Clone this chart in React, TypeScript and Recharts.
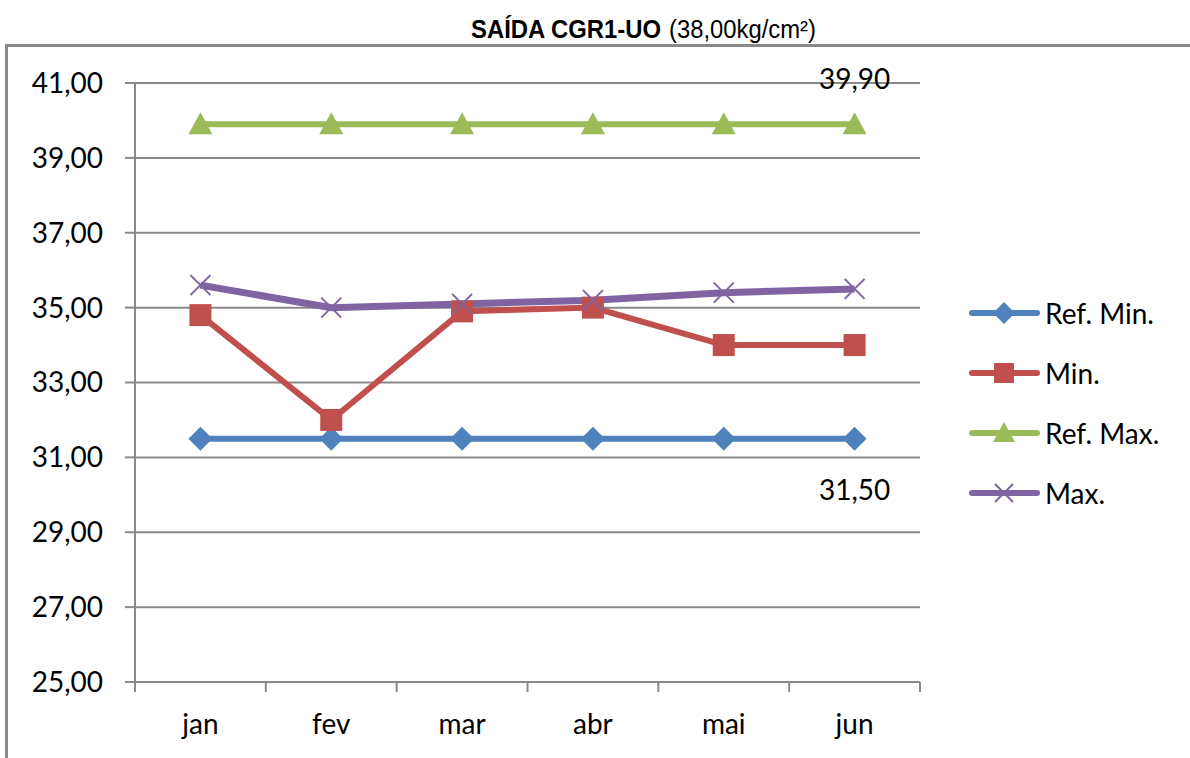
import { LineChart, Line, XAxis, YAxis, CartesianGrid, LabelList } from "recharts";

const months = ["jan", "fev", "mar", "abr", "mai", "jun"];
const refMinValues = [31.5, 31.5, 31.5, 31.5, 31.5, 31.5];
const minValues = [34.8, 32.0, 34.9, 35.0, 34.0, 34.0];
const refMaxValues = [39.9, 39.9, 39.9, 39.9, 39.9, 39.9];
const maxValues = [35.6, 35.0, 35.1, 35.2, 35.4, 35.5];
const yTicks = [25, 27, 29, 31, 33, 35, 37, 39, 41];

const seriesNames = ["Ref. Min.", "Min.", "Ref. Max.", "Max."];

const data = months.map((month, i) => ({
  month,
  refMin: refMinValues[i],
  min: minValues[i],
  refMax: refMaxValues[i],
  max: maxValues[i],
}));

const BLUE = "#4F81BD";
const RED = "#C0504D";
const GREEN = "#9BBB59";
const PURPLE = "#8064A2";
const GRID = "#898989";
const FONT = "Lato, 'Noto Sans', sans-serif";
const NARROW = "'Liberation Sans Narrow', 'Liberation Sans', Arial, sans-serif";

const W = 1190;
const H = 758;
const plotLeft = 135;
const plotRight = 920;
const plotTop = 83;
const plotBottom = 682;
const band = (plotRight - plotLeft) / months.length;

const fmt = (v: number) => v.toFixed(2).replace(".", ",");

function marker(kind: string, cx: number, cy: number, color: string, s: number, key?: string) {
  const h = s / 2;
  if (kind === "diamond")
    return <polygon key={key} points={`${cx},${cy - h} ${cx + h},${cy} ${cx},${cy + h} ${cx - h},${cy}`} fill={color} />;
  if (kind === "square")
    return <rect key={key} x={cx - h + 1} y={cy - h + 1} width={s - 2} height={s - 2} fill={color} />;
  if (kind === "triangle")
    return <polygon key={key} points={`${cx},${cy - h} ${cx + h},${cy + h - 2} ${cx - h},${cy + h - 2}`} fill={color} />;
  const r = h - 2;
  return (
    <g key={key}>
      <line x1={cx - r} y1={cy - r} x2={cx + r} y2={cy + r} stroke={color} strokeWidth={2} />
      <line x1={cx - r} y1={cy + r} x2={cx + r} y2={cy - r} stroke={color} strokeWidth={2} />
    </g>
  );
}

const dotFor = (kind: string, color: string) => (props: any) =>
  marker(kind, props.cx, props.cy, color, 24, `${kind}-${props.index}`);

function MonthTick({ x, y, payload, index }: any) {
  const last = index === months.length - 1;
  return (
    <g>
      <line x1={x - band / 2} x2={x - band / 2} y1={y} y2={y + 10} stroke={GRID} strokeWidth={2} />
      {last && <line x1={x + band / 2} x2={x + band / 2} y1={y} y2={y + 10} stroke={GRID} strokeWidth={2} />}
      <text x={x} y={y + 41} textAnchor="middle" dominantBaseline="central" fontSize={28} fontFamily={FONT} fill="#000">
        {payload.value}
      </text>
    </g>
  );
}

const lastLabel = (dy: number) => (props: any) => {
  if (props.index !== months.length - 1) return null;
  return (
    <text x={props.x} y={props.y + dy} textAnchor="middle" dominantBaseline="central" fontSize={28} fontFamily={FONT} fill="#000">
      {fmt(Number(props.value))}
    </text>
  );
};

const legendItems = [
  { name: seriesNames[0], color: BLUE, kind: "diamond" },
  { name: seriesNames[1], color: RED, kind: "square" },
  { name: seriesNames[2], color: GREEN, kind: "triangle" },
  { name: seriesNames[3], color: PURPLE, kind: "x" },
];

export default function App() {
  return (
    <div style={{ position: "absolute", left: 0, top: 0, width: W, height: H, background: "#fff", overflow: "hidden" }}>
      <div
        style={{
          position: "absolute",
          left: 5,
          top: 44,
          width: W + 20,
          height: H + 20,
          borderLeft: `3px solid ${GRID}`,
          borderTop: `3px solid ${GRID}`,
        }}
      />
      <svg width={W} height={60} style={{ position: "absolute", left: 0, top: 0 }}>
        <text x={471} y={38} textLength={190} lengthAdjust="spacingAndGlyphs" fontSize={25} fontWeight="bold" fontFamily={NARROW} fill="#000">
          SAÍDA CGR1-UO
        </text>
        <text x={669} y={38} textLength={147} lengthAdjust="spacingAndGlyphs" fontSize={25} fontFamily={NARROW} fill="#000">
          (38,00kg/cm²)
        </text>
      </svg>
      <div style={{ position: "absolute", left: 0, top: 0 }}>
        <LineChart
          width={W}
          height={H}
          data={data}
          margin={{ top: plotTop, right: W - plotRight, bottom: 0, left: 0 }}
        >
          <CartesianGrid horizontal vertical={false} stroke={GRID} strokeWidth={2} />
          <XAxis
            dataKey="month"
            height={H - plotBottom}
            padding={{ left: band / 2, right: band / 2 }}
            axisLine={{ stroke: GRID, strokeWidth: 2 }}
            tickLine={false}
            tickSize={0}
            tickMargin={0}
            interval={0}
            tick={<MonthTick />}
          />
          <YAxis
            width={plotLeft}
            domain={[25, 41]}
            ticks={yTicks}
            interval={0}
            tickFormatter={fmt}
            axisLine={{ stroke: GRID, strokeWidth: 2 }}
            tickLine={{ stroke: GRID, strokeWidth: 2 }}
            tickSize={10}
            tickMargin={22}
            tick={{ fontSize: 28, fontFamily: FONT, fill: "#000" }}
          />
          <Line
            dataKey="refMin"
            name={seriesNames[0]}
            stroke={BLUE}
            strokeWidth={6}
            dot={dotFor("diamond", BLUE)}
            isAnimationActive={false}
          >
            <LabelList dataKey="refMin" content={lastLabel(50)} />
          </Line>
          <Line
            dataKey="min"
            name={seriesNames[1]}
            stroke={RED}
            strokeWidth={6}
            dot={dotFor("square", RED)}
            isAnimationActive={false}
          />
          <Line
            dataKey="refMax"
            name={seriesNames[2]}
            stroke={GREEN}
            strokeWidth={6}
            dot={dotFor("triangle", GREEN)}
            isAnimationActive={false}
          >
            <LabelList dataKey="refMax" content={lastLabel(-46)} />
          </Line>
          <Line
            dataKey="max"
            name={seriesNames[3]}
            stroke={PURPLE}
            strokeWidth={7}
            dot={dotFor("x", PURPLE)}
            isAnimationActive={false}
          />
        </LineChart>
      </div>
      <svg width={230} height={240} style={{ position: "absolute", left: 960, top: 283 }}>
        {legendItems.map((item, i) => {
          const cy = 30 + i * 60;
          return (
            <g key={item.name}>
              <line x1={12} x2={77} y1={cy} y2={cy} stroke={item.color} strokeWidth={6} strokeLinecap="round" />
              {marker(item.kind, 44, cy, item.color, 22)}
              <text x={85} y={cy} dominantBaseline="central" fontSize={28} fontFamily={FONT} fill="#000">
                {item.name}
              </text>
            </g>
          );
        })}
      </svg>
    </div>
  );
}
